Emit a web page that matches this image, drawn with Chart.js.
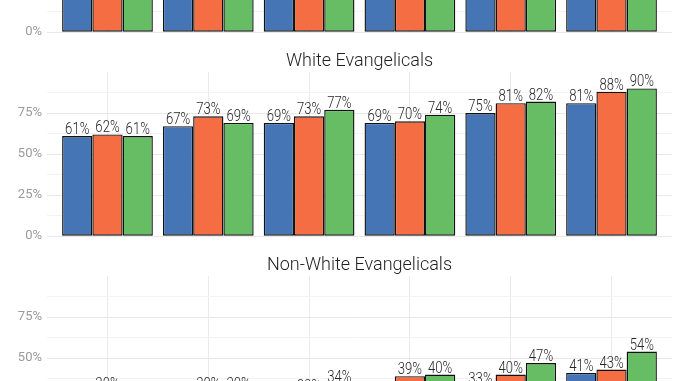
<!DOCTYPE html>
<html><head><meta charset="utf-8">
<script src="https://cdn.jsdelivr.net/npm/chart.js@4"></script>
<style>
html,body{margin:0;padding:0;width:678px;height:381px;overflow:hidden;background:#fff;position:relative}
.p{position:absolute;left:0;width:678px;height:217px}
canvas{display:block}
</style></head><body>
<div class="p" style="top:-172px"><canvas id="c1" width="678" height="217"></canvas></div>
<div class="p" style="top:32px"><canvas id="c2" width="678" height="217"></canvas></div>
<div class="p" style="top:236px"><canvas id="c3" width="678" height="217"></canvas></div>
<script>
// ---- data ----
const categories = ['Group 1','Group 2','Group 3','Group 4','Group 5','Group 6'];
const seriesNames = ['Series A','Series B','Series C'];
const panelTitles = ['All Evangelicals','White Evangelicals','Non-White Evangelicals'];
const yTickValues = [0, 12.5, 25, 37.5, 50, 62.5, 75, 87.5];
const yTickLabels = ['0%','','25%','','50%','','75%',''];

// panel 1 (only bottom visible) - estimated
const allA = [56, 60, 62, 62, 66, 71];
const allB = [58, 65, 65, 63, 72, 77];
const allC = [57, 63, 70, 67, 73, 80];
// White Evangelicals
const whiteA = [61, 67, 69, 69, 75, 81];
const whiteB = [62, 73, 73, 70, 81, 88];
const whiteC = [61, 69, 77, 74, 82, 90];
// Non-White Evangelicals (lowest values cut off, estimated)
const nonWhiteA = [25, 24, 26, 26, 33, 41];
const nonWhiteB = [30, 30, 29, 39, 40, 43];
const nonWhiteC = [26, 30, 34, 40, 47, 54];

const colors = ['#4575b4', '#f46d43', '#66bd63'];

const labelFamily = "'Roboto','DejaVu Sans',sans-serif";
Chart.defaults.font.family = labelFamily;
Chart.defaults.animation = false;

const facetTitle = {
  id: 'facetTitle',
  afterDraw(chart, args, opts) {
    const {ctx, chartArea: a} = chart;
    ctx.save();
    ctx.font = "300 18px 'Roboto','DejaVu Sans',sans-serif";
    ctx.fillStyle = '#1f1f1f';
    ctx.textAlign = 'center';
    ctx.textBaseline = 'middle';
    ctx.fillText(opts.text, (a.left + a.right) / 2, a.top - 11);
    ctx.restore();
  }
};
const barLabels = {
  id: 'barLabels',
  afterDatasetsDraw(chart) {
    const {ctx} = chart;
    ctx.save();
    ctx.font = "300 16px " + labelFamily;
    ctx.fillStyle = '#262626';
    ctx.textAlign = 'center';
    ctx.textBaseline = 'alphabetic';
    chart.data.datasets.forEach((ds, di) => {
      const meta = chart.getDatasetMeta(di);
      meta.data.forEach((el, i) => {
        ctx.save();
        ctx.translate(el.x, el.y - 2);
        ctx.scale(0.82, 1);
        ctx.fillText(ds.data[i].y + '%', 0, 0);
        ctx.restore();
      });
    });
    ctx.restore();
  }
};

function makeChart(id, title, series) {
  return new Chart(document.getElementById(id), {
    type: 'bar',
    data: {
      datasets: series.map((arr, k) => ({
        label: seriesNames[k],
        data: arr.map((v, i) => ({x: i + 1, y: v})),
        backgroundColor: colors[k],
        borderColor: '#111111',
        borderWidth: 1.4,
        borderSkipped: false,
        categoryPercentage: 0.9,
        barPercentage: 1
      }))
    },
    options: {
      responsive: false,
      layout: {padding: {top: 40, bottom: 6, left: 0, right: 6}},
      plugins: {legend: {display: false}, tooltip: {enabled: false}, facetTitle: {text: title}},
      scales: {
        x: {
          type: 'linear', min: 0.4, max: 6.6, offset: false,
          afterBuildTicks: ax => { ax.ticks = categories.map((c, i) => ({value: i + 1})); },
          ticks: {display: false},
          grid: {color: '#ebebeb', lineWidth: 1, drawTicks: false, offset: false},
          border: {display: false}
        },
        y: {
          min: 0, max: 100,
          afterBuildTicks: ax => { ax.ticks = yTickValues.map(v => ({value: v})); },
          afterFit: ax => { ax.width = 47; },
          ticks: {
            padding: 5, color: '#9a9a9a',
            font: {size: 13, family: labelFamily},
            callback: (v) => yTickLabels[yTickValues.indexOf(v)] ?? ''
          },
          grid: {
            drawTicks: false, lineWidth: 1,
            color: c => (c.tick && c.tick.value % 25 === 0) ? '#e8e8e8' : '#f3f3f3'
          },
          border: {display: false}
        }
      }
    },
    plugins: [facetTitle, barLabels]
  });
}

makeChart('c1', panelTitles[0], [allA, allB, allC]);
makeChart('c2', panelTitles[1], [whiteA, whiteB, whiteC]);
makeChart('c3', panelTitles[2], [nonWhiteA, nonWhiteB, nonWhiteC]);
</script>
</body></html>
